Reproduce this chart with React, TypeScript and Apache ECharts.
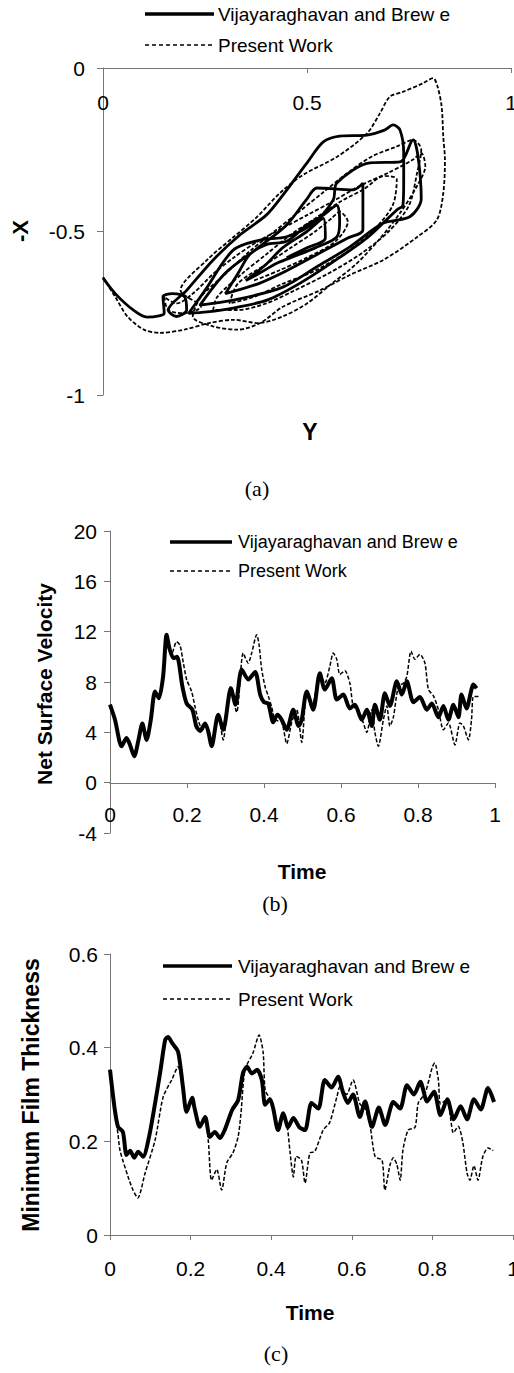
import React, { useEffect, useRef } from "react";
import * as echarts from "echarts";

// ---------- (a) phase plot: Y (horizontal) vs -X (vertical) ----------
const aSolidY = [0, 0.03, 0.074, 0.108, 0.14, 0.15, 0.147, 0.17, 0.2, 0.205, 0.18, 0.16, 0.205, 0.27, 0.336, 0.4, 0.44, 0.5, 0.54, 0.58, 0.647, 0.69, 0.711, 0.728, 0.737, 0.737, 0.735, 0.72, 0.647, 0.564, 0.483, 0.402, 0.319, 0.255, 0.21, 0.25, 0.319, 0.385, 0.45, 0.515, 0.564, 0.573, 0.654, 0.728, 0.76, 0.772, 0.78, 0.752, 0.686, 0.605, 0.524, 0.441, 0.32, 0.238, 0.3, 0.38, 0.45, 0.5, 0.524, 0.613, 0.637, 0.637, 0.6, 0.54, 0.45, 0.38, 0.3, 0.33, 0.36, 0.4, 0.45, 0.5, 0.54, 0.573, 0.58, 0.573, 0.52, 0.46, 0.426, 0.38, 0.35, 0.4, 0.44, 0.5, 0.54, 0.545, 0.5, 0.45];
const aSolidX = [-0.642, -0.69, -0.74, -0.762, -0.757, -0.75, -0.7, -0.69, -0.7, -0.74, -0.76, -0.74, -0.68, -0.587, -0.51, -0.45, -0.39, -0.29, -0.226, -0.208, -0.205, -0.19, -0.174, -0.19, -0.26, -0.35, -0.42, -0.434, -0.52, -0.593, -0.658, -0.71, -0.734, -0.746, -0.75, -0.68, -0.557, -0.526, -0.516, -0.475, -0.404, -0.352, -0.29, -0.287, -0.22, -0.27, -0.4, -0.455, -0.475, -0.547, -0.608, -0.67, -0.71, -0.725, -0.627, -0.55, -0.48, -0.4, -0.367, -0.373, -0.352, -0.495, -0.52, -0.56, -0.62, -0.66, -0.69, -0.63, -0.57, -0.54, -0.53, -0.48, -0.45, -0.42, -0.47, -0.517, -0.55, -0.58, -0.597, -0.63, -0.65, -0.6, -0.55, -0.5, -0.46, -0.52, -0.55, -0.58];
const aDashY = [0, 0.03, 0.06, 0.1, 0.14, 0.2, 0.26, 0.32, 0.38, 0.44, 0.5, 0.56, 0.62, 0.68, 0.73, 0.77, 0.79, 0.78, 0.76, 0.7, 0.63, 0.56, 0.5, 0.44, 0.38, 0.32, 0.27, 0.22, 0.18, 0.15, 0.16, 0.2, 0.24, 0.19, 0.255, 0.32, 0.377, 0.434, 0.49, 0.573, 0.647, 0.679, 0.703, 0.735, 0.784, 0.809, 0.82, 0.83, 0.834, 0.838, 0.834, 0.818, 0.77, 0.687, 0.605, 0.532, 0.441, 0.385, 0.33, 0.27, 0.22, 0.24, 0.3, 0.36, 0.42, 0.48, 0.54, 0.6, 0.66, 0.72, 0.76, 0.78, 0.77, 0.75, 0.7, 0.63, 0.55, 0.47, 0.4, 0.33, 0.27, 0.28, 0.34, 0.4, 0.46, 0.52, 0.58, 0.64, 0.69, 0.72, 0.71, 0.66, 0.6, 0.52, 0.44, 0.37, 0.31, 0.33, 0.4, 0.46, 0.52, 0.56, 0.58, 0.6, 0.57, 0.5, 0.43, 0.37];
const aDashX = [-0.64, -0.7, -0.76, -0.8, -0.81, -0.8, -0.78, -0.77, -0.78, -0.76, -0.72, -0.66, -0.6, -0.52, -0.44, -0.36, -0.3, -0.26, -0.28, -0.32, -0.36, -0.41, -0.45, -0.49, -0.53, -0.58, -0.63, -0.69, -0.72, -0.7, -0.74, -0.75, -0.73, -0.68, -0.587, -0.517, -0.456, -0.382, -0.327, -0.272, -0.2, -0.138, -0.088, -0.073, -0.047, -0.031, -0.057, -0.118, -0.21, -0.28, -0.383, -0.465, -0.517, -0.587, -0.633, -0.68, -0.73, -0.78, -0.8, -0.79, -0.76, -0.7, -0.63, -0.56, -0.5, -0.44, -0.38, -0.32, -0.27, -0.24, -0.22, -0.25, -0.32, -0.42, -0.5, -0.57, -0.63, -0.68, -0.72, -0.74, -0.74, -0.7, -0.63, -0.57, -0.51, -0.46, -0.41, -0.37, -0.33, -0.34, -0.42, -0.5, -0.56, -0.62, -0.66, -0.7, -0.72, -0.66, -0.6, -0.55, -0.5, -0.46, -0.44, -0.47, -0.53, -0.58, -0.62, -0.65];

// ---------- (b) net surface velocity vs time ----------
const bSolidT = [0, 0.013, 0.03, 0.043, 0.052, 0.063, 0.074, 0.084, 0.095, 0.106, 0.117, 0.127, 0.138, 0.147, 0.155, 0.165, 0.174, 0.188, 0.199, 0.214, 0.224, 0.234, 0.247, 0.255, 0.264, 0.281, 0.294, 0.314, 0.326, 0.342, 0.359, 0.377, 0.39, 0.4, 0.411, 0.424, 0.435, 0.446, 0.459, 0.476, 0.49, 0.498, 0.511, 0.528, 0.545, 0.558, 0.576, 0.589, 0.606, 0.623, 0.636, 0.654, 0.667, 0.68, 0.688, 0.701, 0.714, 0.727, 0.745, 0.758, 0.771, 0.788, 0.805, 0.823, 0.836, 0.853, 0.866, 0.879, 0.892, 0.905, 0.913, 0.926, 0.944, 0.952];
const bSolidV = [6.2, 5.0, 2.9, 3.55, 3.0, 2.1, 3.4, 4.7, 3.4, 5.0, 7.25, 6.7, 8.45, 11.75, 10.6, 9.9, 10.0, 7.65, 6.3, 5.8, 4.5, 4.1, 4.7, 4.1, 2.9, 5.4, 4.2, 7.5, 6.2, 9.0, 8.2, 8.8, 7.0, 6.4, 6.3, 4.8, 5.4, 5.0, 4.2, 5.8, 4.5, 5.0, 7.25, 5.8, 8.7, 7.4, 8.3, 6.6, 7.0, 5.9, 6.2, 5.0, 5.8, 4.5, 6.2, 5.0, 7.1, 6.1, 8.05, 7.0, 8.05, 6.4, 6.8, 5.8, 6.3, 5.2, 6.1, 5.0, 6.2, 5.2, 7.0, 5.9, 7.8, 7.5];
const bDashT = [0, 0.013, 0.03, 0.043, 0.052, 0.063, 0.074, 0.084, 0.095, 0.106, 0.117, 0.127, 0.138, 0.147, 0.16, 0.173, 0.182, 0.19, 0.199, 0.212, 0.221, 0.229, 0.24, 0.25, 0.264, 0.281, 0.294, 0.312, 0.329, 0.346, 0.359, 0.368, 0.381, 0.387, 0.394, 0.403, 0.411, 0.42, 0.429, 0.446, 0.459, 0.472, 0.485, 0.498, 0.511, 0.524, 0.545, 0.558, 0.571, 0.58, 0.589, 0.597, 0.61, 0.623, 0.632, 0.645, 0.658, 0.667, 0.68, 0.688, 0.697, 0.71, 0.719, 0.727, 0.736, 0.749, 0.762, 0.771, 0.782, 0.792, 0.805, 0.818, 0.827, 0.84, 0.853, 0.866, 0.879, 0.896, 0.909, 0.918, 0.931, 0.939, 0.944, 0.957];
const bDashV = [6.2, 5.0, 2.9, 3.55, 3.0, 2.1, 3.4, 4.7, 3.4, 5.0, 7.25, 6.7, 8.45, 11.6, 10.2, 11.2, 10.9, 9.6, 8.2, 7.25, 6.0, 5.0, 4.2, 4.5, 2.9, 5.4, 3.4, 7.6, 5.6, 10.3, 9.5, 10.3, 11.75, 11.0, 9.0, 7.6, 6.9, 6.0, 5.0, 4.8, 3.1, 4.8, 5.8, 3.2, 7.25, 5.9, 8.7, 7.9, 9.25, 10.3, 9.8, 8.6, 8.9, 7.9, 6.05, 5.8, 4.75, 4.0, 5.8, 4.0, 2.9, 5.0, 6.1, 4.5, 5.2, 7.65, 7.9, 8.45, 10.45, 9.8, 10.2, 9.5, 7.4, 6.9, 5.8, 4.2, 4.75, 3.0, 4.75, 4.5, 3.4, 5.0, 6.85, 6.85];

// ---------- (c) minimum film thickness vs time ----------
const cSolidT = [0, 0.012, 0.02, 0.032, 0.041, 0.05, 0.06, 0.07, 0.082, 0.097, 0.112, 0.125, 0.137, 0.144, 0.154, 0.169, 0.181, 0.19, 0.204, 0.21, 0.223, 0.236, 0.248, 0.26, 0.273, 0.285, 0.303, 0.318, 0.33, 0.34, 0.352, 0.365, 0.377, 0.385, 0.397, 0.405, 0.417, 0.43, 0.442, 0.455, 0.47, 0.484, 0.5, 0.517, 0.533, 0.55, 0.566, 0.578, 0.59, 0.603, 0.62, 0.633, 0.65, 0.667, 0.683, 0.703, 0.72, 0.737, 0.754, 0.77, 0.787, 0.804, 0.82, 0.837, 0.853, 0.87, 0.886, 0.903, 0.92, 0.938, 0.953];
const cSolidV = [0.353, 0.267, 0.231, 0.22, 0.171, 0.18, 0.165, 0.178, 0.167, 0.21, 0.282, 0.35, 0.417, 0.423, 0.41, 0.391, 0.316, 0.263, 0.293, 0.27, 0.231, 0.252, 0.209, 0.22, 0.207, 0.225, 0.267, 0.288, 0.346, 0.359, 0.345, 0.353, 0.33, 0.278, 0.29, 0.27, 0.224, 0.26, 0.23, 0.25, 0.23, 0.224, 0.282, 0.27, 0.331, 0.315, 0.338, 0.305, 0.282, 0.3, 0.252, 0.285, 0.231, 0.272, 0.235, 0.284, 0.27, 0.32, 0.3, 0.327, 0.285, 0.306, 0.256, 0.29, 0.247, 0.275, 0.247, 0.29, 0.268, 0.314, 0.284];
const cDashT = [0, 0.012, 0.02, 0.025, 0.045, 0.057, 0.069, 0.087, 0.112, 0.132, 0.153, 0.169, 0.181, 0.19, 0.204, 0.21, 0.223, 0.236, 0.244, 0.252, 0.265, 0.277, 0.29, 0.305, 0.318, 0.325, 0.335, 0.355, 0.37, 0.38, 0.385, 0.397, 0.405, 0.417, 0.43, 0.44, 0.447, 0.455, 0.462, 0.475, 0.484, 0.496, 0.508, 0.529, 0.545, 0.563, 0.571, 0.587, 0.603, 0.62, 0.633, 0.645, 0.658, 0.675, 0.682, 0.695, 0.703, 0.712, 0.72, 0.727, 0.74, 0.757, 0.765, 0.782, 0.8, 0.806, 0.815, 0.82, 0.837, 0.845, 0.852, 0.864, 0.875, 0.886, 0.893, 0.903, 0.913, 0.925, 0.938, 0.951];
const cDashV = [0.353, 0.267, 0.214, 0.18, 0.124, 0.096, 0.079, 0.132, 0.203, 0.295, 0.331, 0.359, 0.316, 0.263, 0.293, 0.27, 0.231, 0.252, 0.2, 0.117, 0.14, 0.096, 0.155, 0.175, 0.21, 0.26, 0.353, 0.389, 0.427, 0.39, 0.31, 0.29, 0.27, 0.224, 0.26, 0.23, 0.175, 0.124, 0.168, 0.16, 0.111, 0.175, 0.178, 0.224, 0.24, 0.295, 0.317, 0.3, 0.331, 0.28, 0.27, 0.235, 0.167, 0.16, 0.096, 0.15, 0.165, 0.15, 0.117, 0.182, 0.224, 0.23, 0.282, 0.303, 0.359, 0.367, 0.33, 0.28, 0.29, 0.25, 0.218, 0.232, 0.2, 0.132, 0.117, 0.148, 0.117, 0.167, 0.186, 0.18];

const legendNames = ["Vijayaraghavan and Brew e", "Present Work"];
const axisTitles = { aY: "-X", aX: "Y", bY: "Net Surface Velocity", bX: "Time", cY: "Minimum Film Thickness", cX: "Time" };
const captions = ["(a)", "(b)", "(c)"];

function pairs(xs: number[], ys: number[]) {
  return xs.map((x, i) => [x, ys[i]]);
}

export default function App() {
  const ref = useRef<HTMLDivElement>(null);
  useEffect(() => {
    const chart = echarts.init(ref.current!, null, { renderer: "svg" });
    const sans = 'Arial, "Liberation Sans", Helvetica, sans-serif';
    const serif = '"Times New Roman", "Liberation Serif", serif';
    const axisColor = "#777";
    const tickFont = 21;

    const xAxisBase = (grid: number, interval: number, margin: number, position: string, offset: number, inside: boolean) => ({
      gridIndex: grid,
      type: "value",
      position,
      offset,
      min: 0,
      max: 1,
      interval,
      axisLine: { show: true, onZero: false, lineStyle: { color: axisColor, width: 1 } },
      axisTick: { show: true, inside, length: 5, lineStyle: { color: axisColor } },
      axisLabel: { inside, margin, fontSize: tickFont, color: "#000", fontFamily: sans, showMinLabel: true, showMaxLabel: true },
      splitLine: { show: false },
    });
    const yAxisBase = (grid: number, min: number, max: number, interval: number, margin: number) => ({
      gridIndex: grid,
      type: "value",
      min,
      max,
      interval,
      axisLine: { show: true, onZero: false, lineStyle: { color: axisColor, width: 1 } },
      axisTick: { show: true, length: 6, lineStyle: { color: axisColor } },
      axisLabel: { margin, fontSize: tickFont, color: "#000", fontFamily: sans, showMinLabel: true, showMaxLabel: true },
      splitLine: { show: false },
    });

    const lineSeries = (idx: number, data: number[][], dashed: boolean, width: number, smooth: number) => ({
      type: "line",
      xAxisIndex: idx,
      yAxisIndex: idx,
      data,
      showSymbol: false,
      symbol: "none",
      smooth,
      clip: false,
      lineStyle: { color: "#000", width, type: dashed ? [4, 2] : "solid" },
      z: dashed ? 2 : 3,
    });

    const legendGroup = (x1: number, x2: number, y1: number, y2: number, tx: number, fs: number) => [
      { type: "line", shape: { x1, y1, x2, y2: y1 }, style: { stroke: "#000", lineWidth: 3.5 } },
      { type: "line", shape: { x1, y1: y2, x2, y2 }, style: { stroke: "#000", lineWidth: 1.5, lineDash: [4, 3] } },
      { type: "text", x: tx, y: y1, style: { text: legendNames[0], font: `${fs}px ${sans}`, fill: "#000", textAlign: "left", textVerticalAlign: "middle" } },
      { type: "text", x: tx, y: y2, style: { text: legendNames[1], font: `${fs}px ${sans}`, fill: "#000", textAlign: "left", textVerticalAlign: "middle" } },
    ];
    const title = (text: string, x: number, y: number, fs: number, rot: boolean) => ({
      type: "text",
      x,
      y,
      rotation: rot ? Math.PI / 2 : 0,
      style: { text, font: `bold ${fs}px ${sans}`, fill: "#000", textAlign: "center", textVerticalAlign: "middle" },
    });
    const caption = (text: string, x: number, y: number) => ({
      type: "text",
      x,
      y,
      style: { text, font: `22px ${serif}`, fill: "#000", textAlign: "center", textVerticalAlign: "middle" },
    });

    chart.setOption({
      animation: false,
      backgroundColor: "#fff",
      grid: [
        { left: 103, top: 68, width: 408, height: 327, containLabel: false, outerBoundsMode: "none" },
        { left: 110, top: 531, width: 385, height: 302, containLabel: false, outerBoundsMode: "none" },
        { left: 110, top: 954, width: 403, height: 281, containLabel: false, outerBoundsMode: "none" },
      ],
      xAxis: [
        xAxisBase(0, 0.5, 24, "top", 0, true),
        xAxisBase(1, 0.2, 21, "bottom", -50, false),
        xAxisBase(2, 0.2, 23, "bottom", 0, false),
      ],
      yAxis: [yAxisBase(0, -1, 0, 0.5, 18), yAxisBase(1, -4, 20, 4, 13), yAxisBase(2, 0, 0.6, 0.2, 12)],
      series: [
        lineSeries(0, pairs(aDashY, aDashX), true, 1.8, 0.3),
        lineSeries(0, pairs(aSolidY, aSolidX), false, 2.8, 0.3),
        lineSeries(1, pairs(bDashT, bDashV), true, 1.5, 0.25),
        lineSeries(1, pairs(bSolidT, bSolidV), false, 4, 0.25),
        lineSeries(2, pairs(cDashT, cDashV), true, 1.5, 0.25),
        lineSeries(2, pairs(cSolidT, cSolidV), false, 4, 0.25),
      ],
      graphic: [
        ...legendGroup(145, 214, 14, 45, 218, 19),
        ...legendGroup(170, 232, 542, 571, 238, 18),
        ...legendGroup(163, 232, 966, 999, 238, 19),
        title(axisTitles.aY, 20, 231, 22, true),
        title(axisTitles.aX, 310, 432, 23, false),
        title(axisTitles.bY, 44, 684, 21, true),
        title(axisTitles.bX, 302, 871, 21, false),
        title(axisTitles.cY, 31, 1095, 23, true),
        title(axisTitles.cX, 310, 1312, 21, false),
        caption(captions[0], 257, 488),
        caption(captions[1], 275, 903),
        caption(captions[2], 276, 1353),
      ],
    });
    return () => chart.dispose();
  }, []);
  return (
    <div
      ref={ref}
      style={{ position: "absolute", left: 0, top: 0, width: 514, height: 1373, background: "#fff" }}
    />
  );
}
